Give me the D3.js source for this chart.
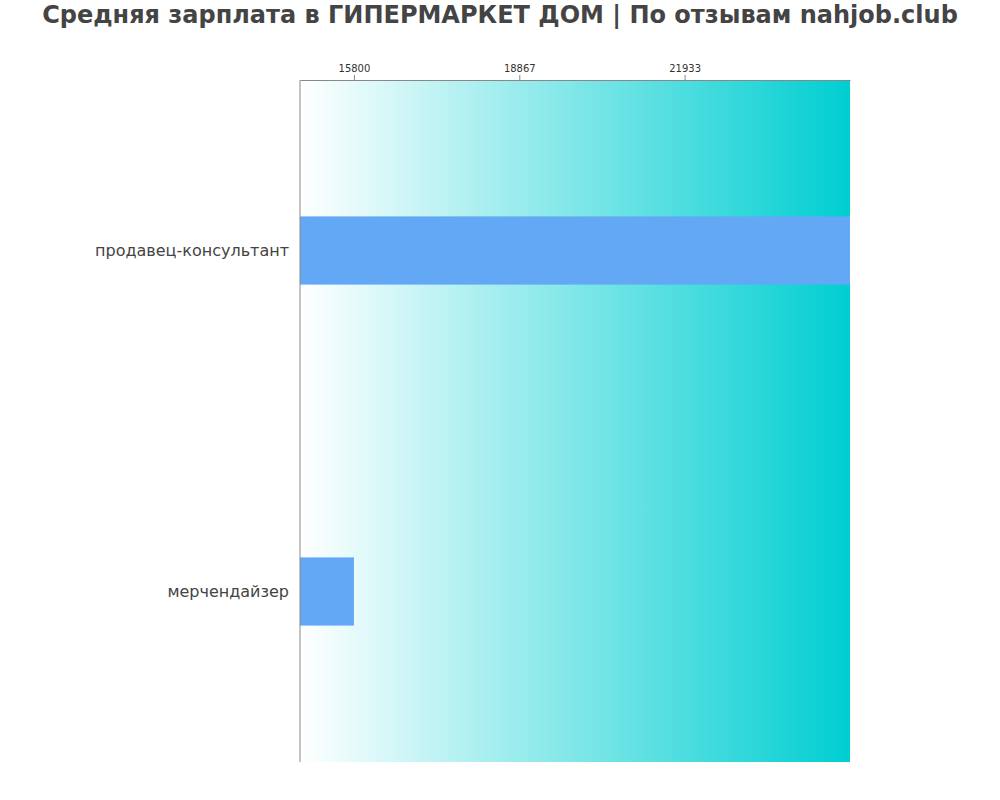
<!DOCTYPE html>
<html><head><meta charset="utf-8">
<script src="https://cdn.jsdelivr.net/npm/d3@7"></script>
<style>body{margin:0;background:#fff;font-family:"DejaVu Sans",sans-serif;}</style>
</head><body>
<svg id="c" width="1000" height="800"></svg>
<script>
const categories = ["продавец-консультант", "мерчендайзер"];
const values = [25000, 15800];
const tickValues = [15800, 18867, 21933];
const titleText = "Средняя зарплата в ГИПЕРМАРКЕТ ДОМ | По отзывам nahjob.club";

const svg = d3.select("#c");
const m = {l:300, r:850, t:80, b:762};
const x = d3.scaleLinear().domain([14800, 25000]).range([m.l, m.r]);
const y = d3.scaleBand().domain(categories).range([m.t, m.b]).paddingInner(0.8).paddingOuter(0.4);

const defs = svg.append("defs");
const g = defs.append("linearGradient").attr("id","bg").attr("x1","0").attr("x2","1").attr("y1","0").attr("y2","0");
g.append("stop").attr("offset","0%").attr("stop-color","#ffffff");
g.append("stop").attr("offset","100%").attr("stop-color","#00ced1");
svg.append("rect").attr("x",m.l).attr("y",m.t).attr("width",m.r-m.l).attr("height",m.b-m.t).attr("fill","url(#bg)");

svg.append("text").attr("x",500).attr("y",23).attr("text-anchor","middle")
  .attr("font-size",24).attr("font-weight","bold").attr("fill","#444").text(titleText);

svg.selectAll(".bar").data(categories).enter().append("rect")
  .attr("x", m.l).attr("y", d=>y(d)).attr("height", y.bandwidth())
  .attr("width", (d,i)=>x(values[i])-m.l).attr("fill","#63a8f5");

const ax = svg.append("g").attr("transform",`translate(0,${m.t})`)
  .call(d3.axisTop(x).tickValues(tickValues).tickFormat(d3.format("d")).tickSize(5).tickSizeOuter(0));
ax.select(".domain").attr("stroke","#888");
ax.selectAll(".tick line").attr("stroke","#888");
ax.selectAll("text").attr("font-size",10).attr("fill","#333").attr("font-family","DejaVu Sans");

svg.append("line").attr("x1",m.l).attr("x2",m.l).attr("y1",m.t).attr("y2",m.b).attr("stroke","#888");

svg.selectAll(".lbl").data(categories).enter().append("text")
  .attr("x", 289).attr("y", d=>y(d)+y.bandwidth()/2+5).attr("text-anchor","end")
  .attr("font-size",16).attr("fill","#444").text(d=>d);
</script>
</body></html>
